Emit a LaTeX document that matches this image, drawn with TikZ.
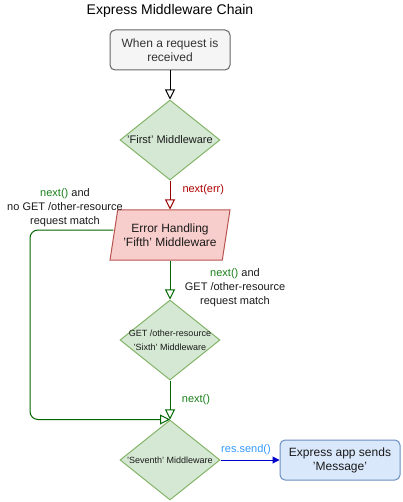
\documentclass[tikz,border=0pt]{standalone}
\usepackage{fontspec}
\setmainfont{Liberation Sans}
\usetikzlibrary{arrows.meta,shapes.geometric}
\definecolor{grayfill}{HTML}{F5F5F5}
\definecolor{graydraw}{HTML}{666666}
\definecolor{greenfill}{HTML}{D5E8D4}
\definecolor{greendraw}{HTML}{82B366}
\definecolor{redfill}{HTML}{F8CECC}
\definecolor{reddraw}{HTML}{B85450}
\definecolor{bluefill}{HTML}{DAE8FC}
\definecolor{bluedraw}{HTML}{6C8EBF}
\definecolor{darkred}{HTML}{990000}
\definecolor{labelred}{HTML}{B20000}
\definecolor{darkgreen}{HTML}{006600}
\definecolor{labelgreen}{HTML}{1A7F1A}
\definecolor{linkblue}{HTML}{0000CC}
\definecolor{labelblue}{HTML}{3399FF}
\definecolor{txt}{HTML}{1A1A1A}
\begin{document}
\begin{tikzpicture}[x=1pt,y=-1pt,line width=1pt,
  every node/.style={text=txt},
  roundbox/.style={draw, rounded corners=5pt, minimum width=120pt, minimum height=40pt, inner sep=0pt, align=center, font=\fontsize{12}{14}\selectfont},
  decision/.style={diamond, draw=greendraw, fill=greenfill, inner sep=0pt, minimum width=100pt, minimum height=80pt, aspect=1.25},
  openarrow/.style={-{Triangle[open,length=10pt,width=10pt]}},
  lbl/.style={font=\fontsize{11}{14}\selectfont, align=center, inner sep=0pt}
]
\useasboundingbox (0,0) rectangle (402,502);

\node[font=\fontsize{14}{16}\selectfont, text=black] (title) at (170,11) {Express Middleware Chain};

\node[roundbox, draw=graydraw, fill=grayfill, text=black!80] (start) at (170,50) {When a request is\\received};

\node[decision, label={[name=d1t, font=\fontsize{11}{13}\selectfont, text=txt]center:'First' Middleware}] (d1) at (170,140) {};

\node[trapezium, trapezium left angle=73.3, trapezium right angle=106.7, trapezium stretches=true,
  draw=reddraw, fill=redfill, minimum width=120pt, minimum height=50pt, inner sep=0pt, align=center,
  font=\fontsize{12}{14}\selectfont] (err) at (170,235) {Error Handling\\'Fifth' Middleware};

\node[decision, label={[name=d2t, font=\fontsize{9}{14}\selectfont, align=center, text=txt]center:GET /other-resource\\'Sixth' Middleware}] (d2) at (170,340) {};

\node[decision, label={[name=d3t, font=\fontsize{9}{11}\selectfont, text=txt]center:'Seventh' Middleware}] (d3) at (170,460) {};

\node[roundbox, draw=bluedraw, fill=bluefill] (send) at (340,460) {Express app sends\\'Message'};

% connectors
\draw[black, openarrow] (start) -- (d1);
\draw[darkred, openarrow] (d1) -- (err);
\draw[darkgreen, openarrow] (err.south -| d1) -- (d2);
\draw[darkgreen, openarrow] (d2) -- (d3);
\coordinate (loopx) at (30,0);
\draw[darkgreen, openarrow, rounded corners=8pt] ([yshift=5pt]err.west) -| (loopx |- d3.north) -- (d3.north);
\draw[linkblue, -{Triangle[length=7pt,width=7pt]}] (d3.east) -- (send.west);

% labels
\node[lbl, text=labelred, anchor=west] (lerr) at (182,190) {next(err)};
\node[lbl] (lleft) at (65,208) {\textcolor{labelgreen}{next()} and\\no GET /other-resource\\request match};
\node[lbl] (lright) at (235,288) {\textcolor{labelgreen}{next()} and\\GET /other-resource\\request match};
\node[lbl, text=labelgreen] (lnext) at (196,400) {next()};
\node[lbl, text=labelblue] (lsend) at (246,450) {res.send()};
\end{tikzpicture}
\end{document}
